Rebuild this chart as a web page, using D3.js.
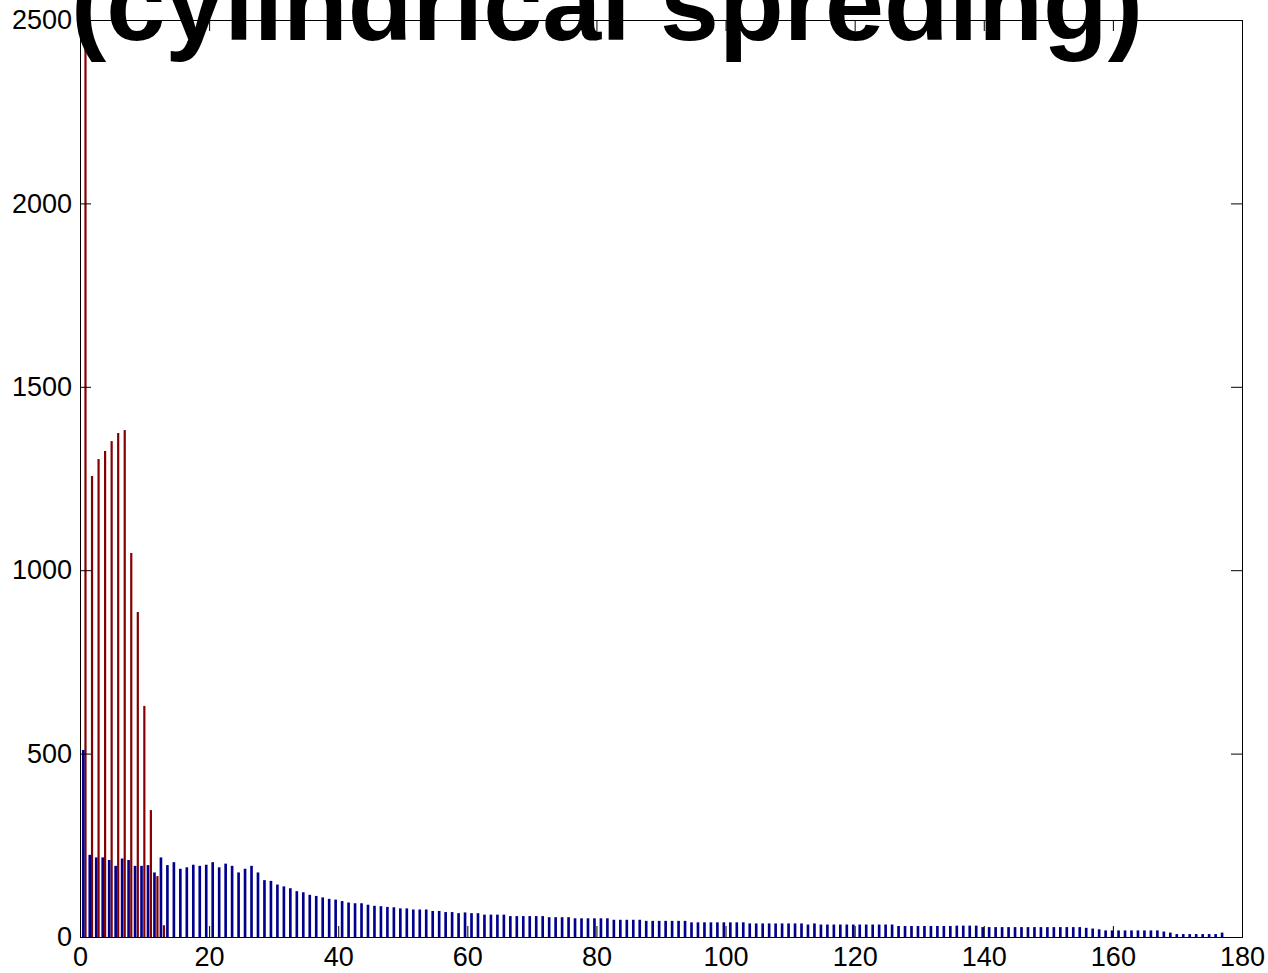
<!DOCTYPE html>
<html>
<head>
<meta charset="utf-8">
<script src="https://cdn.jsdelivr.net/npm/d3@7"></script>
<style>
  html, body { margin: 0; padding: 0; background: #fff; }
  svg { display: block; }
  text { font-family: "Liberation Sans", Arial, sans-serif; }
</style>
</head>
<body>
<svg id="chart" width="1268" height="973"></svg>
<script>
// ---- data ----
const titleText = "(cylindrical spreding)";
const xTicks = [0, 20, 40, 60, 80, 100, 120, 140, 160, 180];
const yTicks = [0, 500, 1000, 1500, 2000, 2500];

// blue series (bins 1..177)
const blueValues = [
  510, 224, 217, 217, 210, 194, 214, 210, 194, 194,
  196, 176, 217, 196, 204, 186, 190, 197, 194, 197,
  204, 190, 200, 194, 176, 186, 194, 176, 155, 153,
  143, 138, 133, 125, 122, 115, 112, 108, 104, 102,
  98, 94, 92, 92, 88, 85, 84, 82, 81, 78,
  78, 75, 75, 75, 71, 71, 68, 68, 65, 67,
  65, 65, 61, 61, 61, 61, 57, 57, 57, 57,
  57, 57, 54, 54, 54, 54, 51, 51, 51, 51,
  51, 51, 47, 47, 47, 47, 47, 44, 44, 44,
  44, 44, 44, 44, 40, 40, 40, 40, 40, 40,
  40, 40, 40, 37, 37, 37, 37, 37, 37, 37,
  37, 37, 34, 37, 34, 34, 34, 34, 34, 34,
  34, 34, 34, 34, 34, 34, 30, 30, 30, 30,
  30, 30, 30, 30, 30, 31, 31, 31, 31, 27,
  27, 27, 27, 27, 27, 27, 27, 27, 27, 27,
  27, 27, 27, 27, 27, 25, 23, 21, 18, 18,
  18, 18, 18, 18, 18, 18, 18, 15, 12, 8,
  8, 8, 8, 8, 8, 8, 12
];
// red series (bins 1..13)
const redValues = [2560, 1257, 1303, 1325, 1352, 1374, 1382, 1047, 886, 630, 346, 166, 32];

// bin layout (data units)
const blueStart = 0.51, blueStep = 1.0023;
const redStart = 0.85, redStep = 1.013;

// ---- layout ----
const svg = d3.select("#chart");
const L = 80, R = 1242, T = 20, B = 937;
const x = d3.scaleLinear().domain([0, 180]).range([L, R]);
const y = d3.scaleLinear().domain([0, 2500]).range([B, T]);

svg.append("defs").append("clipPath").attr("id", "plotclip")
  .append("rect").attr("x", L).attr("y", T).attr("width", R - L).attr("height", B - T);

const blueData = blueValues.map((v, i) => ({ c: blueStart + blueStep * i, v }));
const redData = redValues.map((v, i) => ({ c: redStart + redStep * i, v }));

const bars = svg.append("g").attr("clip-path", "url(#plotclip)");
const redW = x(0.34) - x(0), blueW = x(0.41) - x(0);

bars.selectAll("rect.red").data(redData).join("rect")
  .attr("class", "red")
  .attr("x", d => x(d.c) - redW / 2)
  .attr("width", redW)
  .attr("y", d => y(d.v))
  .attr("height", d => y(0) - y(d.v))
  .attr("fill", "#850000");

bars.selectAll("rect.blue").data(blueData).join("rect")
  .attr("class", "blue")
  .attr("x", d => x(d.c) - blueW / 2)
  .attr("width", blueW)
  .attr("y", d => y(d.v))
  .attr("height", d => y(0) - y(d.v))
  .attr("fill", "#00008c");

// ---- axes (MATLAB style: inward ticks, box) ----
const tickLen = 11;
const fontSize = 27;

const xAxisB = d3.axisBottom(x).tickValues(xTicks).tickSize(-tickLen).tickPadding(10).tickFormat(d3.format("d"));
const xAxisT = d3.axisTop(x).tickValues(xTicks).tickSize(-tickLen).tickFormat("");
const yAxisL = d3.axisLeft(y).tickValues(yTicks).tickSize(-tickLen).tickPadding(8).tickFormat(d3.format("d"));
const yAxisR = d3.axisRight(y).tickValues(yTicks).tickSize(-tickLen).tickFormat("");

function style(g) {
  g.attr("font-size", fontSize);
  g.selectAll("path.domain").attr("stroke", "#000").attr("stroke-width", 1);
  g.selectAll(".tick line").attr("stroke", "#000").attr("stroke-width", 1);
  g.selectAll(".tick text").attr("font-size", fontSize).attr("fill", "#000")
    .attr("font-family", "'Liberation Sans', Arial, sans-serif");
}

svg.append("g").attr("transform", `translate(0,${B})`).call(xAxisB).call(style)
  .selectAll(".tick text").attr("dy", "0.71em");
svg.append("g").attr("transform", `translate(0,${T})`).call(xAxisT).call(style);
svg.append("g").attr("transform", `translate(${L},0)`).call(yAxisL).call(style);
svg.append("g").attr("transform", `translate(${R},0)`).call(yAxisR).call(style);

// ---- title (cut off at the top edge, as in the reference) ----
svg.append("text")
  .attr("x", 607)
  .attr("y", 40)
  .attr("text-anchor", "middle")
  .attr("font-size", 106)
  .attr("font-weight", "bold")
  .attr("fill", "#000")
  .text(titleText);
</script>
</body>
</html>
